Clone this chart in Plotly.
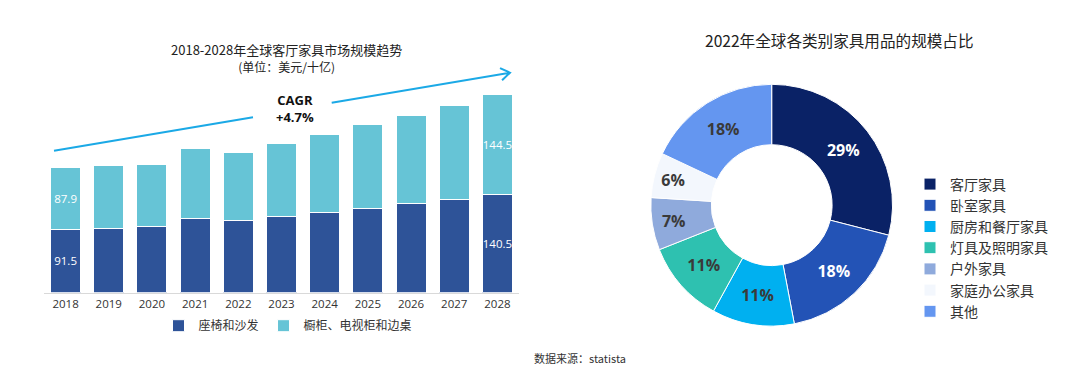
import math
import plotly.graph_objects as go

W, H = 1080, 371

# ---------------- data ----------------
years = ["2018", "2019", "2020", "2021", "2022", "2023", "2024", "2025", "2026", "2027", "2028"]
seating = [91.5, 92.8, 94.7, 106.2, 103.7, 109.1, 115.8, 121.0, 127.8, 134.0, 140.5]
cabinets = [87.9, 90.2, 89.3, 101.1, 98.3, 104.9, 111.6, 120.3, 126.8, 134.9, 144.5]
seating_labels = ["91.5", "", "", "", "", "", "", "", "", "", "140.5"]
cabinet_labels = ["87.9", "", "", "", "", "", "", "", "", "", "144.5"]
bar_names = ["座椅和沙发", "橱柜、电视柜和边桌"]

pie_labels = ["客厅家具", "卧室家具", "厨房和餐厅家具", "灯具及照明家具", "户外家具", "家庭办公家具", "其他"]
pie_values = [29, 18, 11, 11, 7, 6, 18]

# ---------------- styles ----------------
FONT = "Noto Sans CJK SC"
dark_bar = "#2E5398"
light_bar = "#66C4D6"
pie_colors = ["#0A2266", "#2353B6", "#00B0F0", "#2EC1B0", "#8FAADC", "#F3F7FD", "#6496F0"]
pie_text_colors = ["white", "white", "#3A3A3A", "#3A3A3A", "#3A3A3A", "#3A3A3A", "#3A3A3A"]


def px(x):
    return x / W


def py(y):
    return 1 - y / H


fig = go.Figure()

fig.add_trace(go.Bar(
    x=years, y=seating, name=bar_names[0], marker=dict(color=dark_bar, line=dict(color="white", width=1)),
    text=seating_labels, textposition="inside", insidetextanchor="middle", textangle=0, constraintext="none",
    textfont=dict(color="white", size=11.5, family="Open Sans"), legend="legend",
))
fig.add_trace(go.Bar(
    x=years, y=cabinets, name=bar_names[1], marker=dict(color=light_bar, line=dict(color="white", width=1)),
    text=cabinet_labels, textposition="inside", insidetextanchor="middle", textangle=0, constraintext="none",
    textfont=dict(color="white", size=11.5, family="Open Sans"), legend="legend",
))

fig.add_trace(go.Pie(
    labels=pie_labels, values=pie_values, hole=0.5, sort=False, direction="clockwise", rotation=0,
    marker=dict(colors=pie_colors, line=dict(color="white", width=1)),
    texttemplate="<b>%{value}%</b>", textposition="inside", insidetextorientation="horizontal",
    textfont=dict(color=pie_text_colors, size=16, family="Open Sans"),
    domain=dict(x=[px(650.7), px(892.7)], y=[py(326), py(84.3)]),
    legend="legend2",
))

y_bottom, y_top = 292.7, 60.0
scale = 0.696
fig.update_layout(
    width=W, height=H,
    margin=dict(l=0, r=0, t=0, b=0),
    paper_bgcolor="white", plot_bgcolor="white",
    barmode="stack", bargap=0.305,
    font=dict(family=FONT, color="#333333"),
    xaxis=dict(domain=[px(44), px(519)], showgrid=False, showline=True, linecolor="#D9D9D9", linewidth=1,
               ticks="", tickfont=dict(size=11.5, color="#333333", family="Open Sans")),
    yaxis=dict(domain=[py(y_bottom), py(y_top)], range=[0, (y_bottom - y_top) / scale],
               visible=False, showgrid=False),
    legend=dict(orientation="h", x=px(288), y=py(325.7), xanchor="center", yanchor="middle",
                font=dict(size=12, family=FONT, color="#333333"), traceorder="normal",
                itemwidth=30, tracegroupgap=0),
    legend2=dict(orientation="v", x=px(910), y=py(168.5), xanchor="left", yanchor="top",
                 font=dict(size=14, family=FONT, color="#333333"), itemwidth=30),
    showlegend=True,
)

annotations = [
    dict(text="2018-2028年全球客厅家具市场规模趋势<br><span style='font-size:12px'>(单位：美元/十亿)</span>",
         x=px(286), y=py(57.5), font=dict(size=13, color="#222222")),
    dict(text="<b>CAGR<br>+4.7%</b>", x=px(295), y=py(108.8), font=dict(size=13, color="#111111", family="Open Sans")),
    dict(text="2022年全球各类别家具用品的规模占比", x=px(839), y=py(39.5), font=dict(size=15.6, color="#222222")),
    dict(text="数据来源：statista", x=px(579.5), y=py(358), font=dict(size=11, color="#333333")),
]
for a in annotations:
    a.update(xref="paper", yref="paper", showarrow=False, xanchor="center", yanchor="middle")
fig.update_layout(annotations=annotations)

# CAGR arrow (decoration), pixel positions converted to paper coords
arrow_col = "#1BA9E6"
seg1 = ((54, 150.7), (253, 117.3))
seg2 = ((331.7, 102.7), (510, 72.7))
(tx, ty) = seg2[1]
ang = math.atan2(seg2[1][1] - seg2[0][1], seg2[1][0] - seg2[0][0])
wing = 11
w1 = (tx - wing * math.cos(ang - 0.6), ty - wing * math.sin(ang - 0.6))
w2 = (tx - wing * math.cos(ang + 0.6), ty - wing * math.sin(ang + 0.6))


def P(p):
    return f"{px(p[0]):.5f},{py(p[1]):.5f}"


path = (f"M {P(seg1[0])} L {P(seg1[1])} M {P(seg2[0])} L {P(seg2[1])} "
        f"M {P(w1)} L {P((tx, ty))} L {P(w2)}")
fig.add_shape(type="path", path=path, xref="paper", yref="paper", line=dict(color=arrow_col, width=2))

fig.write_html("out.html", config={"displayModeBar": False},
               post_script="document.body.style.margin='0';document.body.style.padding='0';")
